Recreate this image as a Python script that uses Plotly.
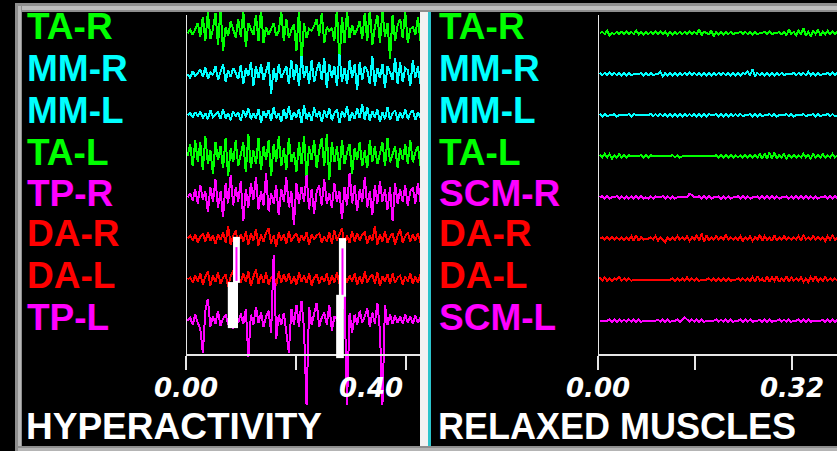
import numpy as np
import plotly.graph_objects as go

W, H = 837, 451

GREEN = "#00ff00"
CYAN = "#00ffff"
MAGENTA = "#ff00ff"
RED = "#ff0000"
AXIS = "#e6e6e6"

# ---------------- data ----------------
channels_left = ["TA-R", "MM-R", "MM-L", "TA-L", "TP-R", "DA-R", "DA-L", "TP-L"]
channels_right = ["TA-R", "MM-R", "MM-L", "TA-L", "SCM-R", "DA-R", "DA-L", "SCM-L"]
colors_left = [GREEN, CYAN, CYAN, GREEN, MAGENTA, RED, RED, MAGENTA]
colors_right = [GREEN, CYAN, CYAN, GREEN, MAGENTA, RED, RED, MAGENTA]

dt_left = 0.0046   # s per sample (hyperactivity recording)
dt_right = 0.004   # s per sample (relaxed recording)

ticks_left = [0.0, 0.2, 0.4]
ticks_right = [0.0, 0.16, 0.32]
ticklabels_left = ["0.00", "0.40"]
ticklabels_right = ["0.00", "0.32"]

# hyperactivity amplitudes (arbitrary units, positive = up)
hyp_ta_r = [0, 3, -2, 5, 10, -4, 16, -8, 21, -6,
            4, 20, -12, 24, -18, 6, -3, 12, 2, -5,
            14, -4, 22, -14, 10, 3, -2, 18, -8, 24,
            -10, 6, -2, 4, 10, -3, 2, 22, -8, 14,
            -5, 3, 9, -18, 24, -30, 10, -5, 4, 2,
            7, 14, -3, 20, -10, 6, 2, 5, -8, 24,
            -30, 16, -10, 22, -5, 8, -2, 4, 12, -6,
            20, -8, 24, -12, 6, 18, -10, 22, -4, 10,
            -26, 18, -8, 8, 14, -5, 22, -10, 4, 6,
            -2, 16, -8, 12]
hyp_mm_r = [0, -4, 3, -2, 1, 5, -3, 7, -5, 2,
            -1, 8, -6, 3, 10, -8, 4, -3, 6, 1,
            -5, 9, -10, 6, -2, 12, -12, 8, -4, 10,
            -6, 3, 12, -20, 6, -8, 10, -4, 2, 8,
            -10, 14, -6, 10, -12, 18, -4, 8, -10, 14,
            -8, 4, 12, -6, 16, -14, 10, -4, 8, -12,
            20, -8, 6, -10, 14, -4, 10, -16, 12, -6,
            8, 4, -10, 18, -12, 6, -4, 10, -14, 8,
            2, -6, 16, -10, 12, -8, 6, 4, -12, 14,
            -4, 8, -10, 6]
hyp_mm_l = [0, 2, -2, 3, -1, 4, -3, 2, -4, 5,
            -2, 1, 3, -4, 6, -3, 2, -5, 4, -1,
            3, -6, 5, -2, 7, -4, 2, -3, 6, -8,
            4, -2, 5, -6, 8, -3, 2, -7, 6, -4,
            9, -5, 3, -2, 6, -8, 10, -4, 3, -6,
            8, -2, 4, -7, 5, -3, 7, -5, 2, 6,
            -8, 4, -2, 9, -6, 3, -4, 7, -3, 11,
            -5, 8, -6, 4, -2, 6, -7, 3, -4, 8,
            -5, 2, 5, -6, 3, -3, 6, -4, 2, 5,
            -5, 3, -2, 4]
hyp_ta_l = [0, 12, -10, 16, -6, 14, -14, 20, -8, 6,
            -18, 14, -4, 10, -12, 18, -20, 8, -6, 16,
            -10, 4, 14, -16, 22, -12, 6, -8, 18, -14,
            10, -4, 16, -20, 12, -6, 20, -10, 8, -14,
            18, -6, 4, -16, 14, -8, 20, -22, 10, -4,
            16, -12, 6, 18, -10, 22, -24, 14, -6, 10,
            -14, 16, -8, 4, 12, -18, 8, -4, 14, -10,
            6, -12, 16, -6, 10, -8, 4, 14, -10, 18,
            -6, 2, 10, -12, 8, -4, 12, -8, 16, -6,
            4, 10, -10, 6]
hyp_tp_r = [0, 4, -3, 8, -6, 12, -2, 6, -14, 10,
            -4, 18, -10, 6, -20, 14, -6, 22, -8, 10,
            -4, 16, -24, 8, -10, 14, -2, 20, -12, 6,
            -8, 24, -14, 4, -6, 12, -18, 8, -4, 20,
            -10, 6, -28, 14, -6, 10, -4, 22, -12, 8,
            -16, 6, 12, -8, 18, -6, 4, -10, 14, -4,
            6, -22, 10, -8, 24, -6, 12, -14, 8, -4,
            20, -10, 6, -18, 12, -6, 16, -4, 8, -12,
            10, -24, 14, -6, 8, -4, 12, -8, 6, 10,
            -6, 14, -4, 8]
hyp_da_r = [0, 3, -2, 4, -4, 2, 5, -3, 6, -2,
            3, -5, 4, -1, 6, -4, 12, -6, 3, 8,
            -5, 4, -3, 7, -6, 5, -2, 9, -7, 4,
            -3, 6, 10, -5, 3, -8, 6, -2, 4, -5,
            7, -3, 2, 5, -4, 3, -2, 6, -6, 4,
            -1, 3, 5, -4, 2, -3, 6, -5, 8, -2,
            4, 10, -6, 3, -4, 7, -3, 5, -2, 4,
            6, -5, 3, -2, 12, -6, 4, -3, 7, -4,
            2, 5, -6, 3, 9, -4, 2, 6, -3, 4,
            -2, 5, -4, 3]
hyp_da_l = [0, 2, -3, 4, -2, 6, -5, 3, 8, -6,
            4, -2, 7, -4, 2, 5, -7, 3, 9, -5,
            4, -3, 6, -2, 8, -6, 3, 10, -4, 5,
            -3, 7, -5, 2, 4, -6, 8, -3, 5, -2,
            6, -4, 3, -5, 7, -2, 4, -3, 6, -6,
            2, 5, -4, 3, -2, 6, -5, 4, -3, 7,
            -4, 2, 5, -3, 4, -2, 6, -5, 3, -4,
            8, -3, 2, 5, -4, 7, -6, 3, -2, 5,
            -4, 6, -3, 2, 4, -5, 3, -2, 6, -4,
            3, -3, 5, -2]
hyp_tp_l = [0, 3, -4, 6, -2, -8, -32, 10, 22, -6,
            4, -3, 10, -5, 2, 6, -4, 3, -8, 5,
            -2, 7, -3, 12, -36, 6, -4, 14, -2, 8,
            -6, 4, 10, -12, 66, -18, 6, -4, 8, -10,
            -32, 12, -4, 16, -6, 20, -8, -84, 14, -4,
            6, 18, -6, 3, 8, -4, 16, -10, 4, 2,
            -6, 10, 24, -84, 8, -12, 6, -4, 10, -2,
            4, 12, -6, 8, -3, 18, -10, -84, 16, -4,
            6, -3, 5, -2, 4, -3, 6, -2, 4, -3,
            5, -2, 3, -2]

# relaxed amplitudes
rel_ta_r = [0, 1, -1, 2, -2, 0, -1, 1, -1, 1,
            -1, 1, -1, 1, -1, 2, -1, 1, -1, 1,
            -1, 1, -1, 1, -1, 1, -1, 1, -2, 1,
            -1, 1, -1, 1, -1, 1, -1, 1, -1, 1,
            -1, 3, -2, 1, 0, -1, 2, -3, 1, -1,
            1, -1, 1, -1, 1, -1, 0, 0, 1, -1,
            1, -1, 1, -1, 1, -1, 0, 0, 1, -1,
            1, -1, 0, 0, 1, -1, 1, -2, 3, -1,
            1, -2, 2, -1, 4, -2, 1, -3, 2, -1,
            3, -2, 1, -1, 2, -1, 1, -1, 1, -1]
rel_mm_r = [1, -1, 1, -1, 1, -1, 1, -1, 1, -1,
            1, -1, 1, -1, 0, 0, 0, 1, -1, 1,
            -1, 1, -1, 0, 0, 2, -2, 1, -1, 1,
            -1, 1, -1, 1, -1, 1, -1, 1, -1, 1,
            -1, 1, -1, 1, -1, 1, -1, 1, -1, 1,
            -1, 1, -1, 1, -1, 1, -1, 1, -1, 1,
            0, 2, -1, 4, -2, 1, -1, 1, -1, 1,
            -1, 1, -1, 1, -1, 1, -1, 0, 0, 0,
            1, -1, 1, -1, 1, -1, 2, -1, 1, -1,
            1, -1, 0, 0, 1, -1, 1, -1, 1, -1]
rel_mm_l = [1, -1, 1, -1, 0, 0, 1, -1, 0, 0,
            0, 0, 1, -1, 1, 0, 0, 0, 0, 0,
            0, 1, -1, 1, -1, 1, -1, 1, -1, 1,
            -1, 1, -1, 1, -1, 1, -1, 1, -1, 1,
            -1, 1, -1, 1, -1, 1, 0, 0, 1, -1,
            1, -1, 1, -1, 1, -1, 1, -1, 1, -1,
            0, 0, 1, -1, 1, -1, 1, -1, 0, 0,
            1, -1, 1, -1, 0, 0, 0, 1, -1, 1,
            -1, 0, 0, 0, 1, -1, 0, 0, 1, -1,
            1, -1, 0, 0, 1, -1, 1, -1, 0, 0]
rel_ta_l = [1, -1, 2, -1, 2, -2, 1, -1, 2, -1,
            1, -1, 1, 0, 0, 0, 0, 1, -1, 1,
            -1, 1, 0, 0, 0, 0, 0, 0, 0, 0,
            1, -1, 1, -1, 0, 0, 0, 0, 0, 0,
            0, 0, 0, 0, 0, 0, 0, 0, 1, -1,
            1, -1, 1, -1, 1, -1, 1, -1, 1, -1,
            1, -1, 1, -1, 1, -1, 2, -2, 2, -2,
            3, -2, 3, -2, 1, -1, 2, -2, 1, -1,
            1, -1, 1, -1, 2, -1, 1, -2, 2, -1,
            1, -1, 2, -1, 1, -1, 2, -1, 1, -1]
rel_scm_r = [0, 1, -1, 1, -1, 0, 0, 1, -1, 1,
             -1, 1, -1, 1, -1, 1, -1, 1, -1, 0,
             -1, 1, -1, 1, 0, 0, 1, -1, 1, -1,
             1, -1, 0, 0, 0, 0, 0, 3, 2, 0,
             0, 1, -1, 1, -1, 1, -1, 0, 0, 1,
             -1, 1, -1, 1, -1, 0, 0, 1, -1, 1,
             -1, 1, -1, 0, 0, 1, -1, 1, -1, 1,
             -1, 1, -1, 1, -1, 0, 0, 1, -1, 1,
             -1, 1, -1, 1, -1, 1, -1, 1, -1, 1,
             -1, 0, 0, 1, -1, 1, -1, 1, -1, 1]
rel_da_r = [0, 1, -1, 1, -1, 1, -1, 1, -1, 1,
            -1, 1, -1, 2, -2, 3, -2, 1, -1, 0,
            0, 1, -1, 2, -2, 1, -1, -3, 1, -1,
            1, -1, 2, -1, 1, -1, 2, -2, 1, -1,
            3, -2, 4, -3, 3, -2, 1, -1, 2, -1,
            1, -1, 3, -1, 1, -1, 1, -1, 2, -2,
            1, -1, 2, -2, 1, -1, 3, -2, 2, -1,
            1, -2, 3, -2, 1, -1, 2, -1, 1, -1,
            1, -1, 2, -2, 3, -1, 1, -1, 2, -1,
            1, -1, 1, -2, 2, -1, 3, -1, 1, -1]
rel_da_l = [2, -1, 2, -1, 1, -1, 1, 0, 2, -1,
            1, -1, 1, -1, 0, 0, 0, 0, 0, 0,
            0, 0, 0, 0, 0, 0, 0, 0, 0, 0,
            1, -1, 1, -1, 1, -1, 2, -1, 1, -1,
            1, -1, 0, 0, 0, 1, -1, 1, -1, 1,
            -1, 1, -1, 1, -1, 0, 0, 1, -1, 1,
            -1, 1, -1, 2, -2, 3, -1, 1, -2, 3,
            -2, 2, -1, 3, -2, 1, -1, 3, -2, 2,
            -1, 1, -1, 2, -2, 1, -2, 2, -1, 3,
            -2, 1, -1, 2, -1, 1, -1, 1, -1, 1]
rel_scm_l = [0, 0, 0, 0, 1, -1, 1, -1, 1, -1,
             1, -1, 1, -1, 1, -1, 1, -1, 0, 0,
             0, 0, 0, 0, 1, -1, 1, -1, 1, -1,
             0, 0, 1, -1, 1, 3, 1, -1, 1, -1,
             1, -1, 1, -1, 0, 0, 0, 0, 1, -1,
             1, -1, 1, -1, 1, -1, 0, 0, 1, -1,
             1, -1, 1, -1, 0, 0, 1, -1, 1, -1,
             1, -1, 0, 0, 1, -1, 1, -1, 1, -1,
             0, 0, 1, -1, 1, -1, 1, -1, 0, 0,
             0, 0, 1, -1, 1, -1, 1, -1, 1, -1]

signals_left = [hyp_ta_r, hyp_mm_r, hyp_mm_l, hyp_ta_l, hyp_tp_r, hyp_da_r, hyp_da_l, hyp_tp_l]
signals_right = [rel_ta_r, rel_mm_r, rel_mm_l, rel_ta_l, rel_scm_r, rel_da_r, rel_da_l, rel_scm_l]

# stimulus / event markers (time in s, channel units)
stim_thin_t = [(0.0855, 0.098), (0.278, 0.291)]
stim_thin_ch = [(4.96, 6.08), (4.99, 6.42)]
stim_thick_t = [(0.076, 0.0945), (0.273, 0.287)]
stim_thick_ch = [(6.06, 7.18), (6.37, 7.91)]

# ---------------- geometry (pixels) ----------------
Y0 = 33.0       # baseline of first channel
SP = 41.1       # px per channel
GAIN_L = 1.0
GAIN_R = 1.2
PX_PER_S_L = 550.0
PX_PER_S_R = 606.0
XL0, XL1 = 186, 421
XR0, XR1 = 598, 837
PLOT_TOP, PLOT_BOT = 12, 412
AXIS_Y = 355
LABEL_Y = [26, 68, 110, 151, 192, 233, 274, 316]


def px(p):
    return p / W


def py(p):
    return 1 - p / H


yrange = [(PLOT_BOT - Y0) / SP, (PLOT_TOP - Y0) / SP]

fig = go.Figure()
for i, (sig, col) in enumerate(zip(signals_left, colors_left)):
    v = np.array(sig, dtype=float)
    t = 0.003 + np.arange(len(v)) * dt_left
    fig.add_trace(go.Scatter(x=t, y=i - v * GAIN_L / SP, mode="lines",
                             line=dict(color=col, width=2), xaxis="x", yaxis="y",
                             hoverinfo="skip"))
for i, (sig, col) in enumerate(zip(signals_right, colors_right)):
    v = np.array(sig, dtype=float)
    t = 0.003 + np.arange(len(v)) * dt_right
    fig.add_trace(go.Scatter(x=t, y=i - v * GAIN_R / SP, mode="lines",
                             line=dict(color=col, width=2), xaxis="x2", yaxis="y2",
                             hoverinfo="skip"))

shapes = []
# event markers
for (t0, t1), (c0, c1) in zip(stim_thick_t, stim_thick_ch):
    shapes.append(dict(type="rect", xref="x", yref="y", x0=t0, x1=t1, y0=c0, y1=c1,
                       fillcolor="white", line=dict(width=0), layer="above"))
for (t0, t1), (c0, c1) in zip(stim_thin_t, stim_thin_ch):
    shapes.append(dict(type="rect", xref="x", yref="y", x0=t0, x1=t1, y0=c0, y1=c1,
                       fillcolor="white", line=dict(width=0), layer="above"))
    tm = (t0 + t1) / 2
    shapes.append(dict(type="line", xref="x", yref="y", x0=tm, x1=tm, y0=c0 + 0.25, y1=c1 - 0.05,
                       line=dict(color=MAGENTA, width=2), layer="above"))

# y-axis lines
for xa, x0 in (("x", 0), ("x2", 0)):
    shapes.append(dict(type="line", xref=xa, yref="paper", x0=x0, x1=x0,
                       y0=py(15), y1=py(AXIS_Y), line=dict(color=AXIS, width=2), layer="above"))

# frame
def rect(x0, y0, x1, y1, color):
    return dict(type="rect", xref="paper", yref="paper", x0=px(x0), x1=px(x1),
                y0=py(y1), y1=py(y0), fillcolor=color, line=dict(width=0), layer="above")

shapes += [
    rect(15, 3, 837, 12, "#8e8e8e"), rect(15, 6, 837, 10, "#bcbcbc"),
    rect(15, 3, 22, 451, "#8e8e8e"), rect(18, 6, 21, 451, "#b8b8b8"),
    rect(15, 446, 837, 451, "#8e8e8e"), rect(18, 448, 837, 451, "#b4b4b4"),
    rect(420, 12, 428, 446, "#f2f2f2"), rect(428, 12, 431, 446, "#2cc4cc"),
]

LABEL_FONT = dict(family="Liberation Sans", size=37)
ann = []
for i, (name, col) in enumerate(zip(channels_left, colors_left)):
    ann.append(dict(text="<b>%s</b>" % name, x=px(25), y=py(LABEL_Y[i] + 1), xref="paper", yref="paper",
                    xanchor="left", yanchor="middle", showarrow=False,
                    font=dict(LABEL_FONT, color=col)))
for i, (name, col) in enumerate(zip(channels_right, colors_right)):
    ann.append(dict(text="<b>%s</b>" % name, x=px(437), y=py(LABEL_Y[i] + 1), xref="paper", yref="paper",
                    xanchor="left", yanchor="middle", showarrow=False,
                    font=dict(LABEL_FONT, color=col)))

tickfont = dict(family="DejaVu Sans", size=26, color="white")
ann += [
    dict(text="<b><i>%s</i></b>" % ticklabels_left[0], x=ticks_left[0], xref="x", y=py(388), yref="paper",
         xanchor="center", yanchor="middle", showarrow=False, font=tickfont),
    dict(text="<b><i>%s</i></b>" % ticklabels_left[1], x=px(371), xref="paper", y=py(388), yref="paper",
         xanchor="center", yanchor="middle", showarrow=False, font=tickfont),
    dict(text="<b><i>%s</i></b>" % ticklabels_right[0], x=ticks_right[0], xref="x2", y=py(388), yref="paper",
         xanchor="center", yanchor="middle", showarrow=False, font=tickfont),
    dict(text="<b><i>%s</i></b>" % ticklabels_right[1], x=ticks_right[2], xref="x2", y=py(388), yref="paper",
         xanchor="center", yanchor="middle", showarrow=False, font=tickfont),
    dict(text="<b>HYPERACTIVITY</b>", x=px(24), y=py(426), xref="paper", yref="paper",
         xanchor="left", yanchor="middle", showarrow=False,
         font=dict(LABEL_FONT, color="white")),
    dict(text="<b>RELAXED MUSCLES</b>", x=px(436), y=py(426), xref="paper", yref="paper",
         xanchor="left", yanchor="middle", showarrow=False,
         font=dict(family="Liberation Sans", size=36, color="white")),
]

axis_common = dict(showgrid=False, zeroline=False, showline=True, linecolor=AXIS, linewidth=2,
                   ticks="outside", ticklen=14, tickwidth=2, tickcolor=AXIS,
                   showticklabels=False, anchor="free", position=py(AXIS_Y), fixedrange=True)

fig.update_layout(
    width=W, height=H, margin=dict(l=0, r=0, t=0, b=0),
    paper_bgcolor="black", plot_bgcolor="black", showlegend=False,
    xaxis=dict(domain=[px(XL0), px(XL1)], range=[0, (XL1 - XL0) / PX_PER_S_L],
               tickvals=ticks_left, **axis_common),
    xaxis2=dict(domain=[px(XR0), px(XR1)], range=[0, (XR1 - XR0) / PX_PER_S_R],
                tickvals=ticks_right, **axis_common),
    yaxis=dict(domain=[py(PLOT_BOT), py(PLOT_TOP)], range=yrange, visible=False, anchor="x"),
    yaxis2=dict(domain=[py(PLOT_BOT), py(PLOT_TOP)], range=yrange, visible=False, anchor="x2"),
    shapes=shapes, annotations=ann,
)

fig.write_html("out.html", config={"displayModeBar": False},
               post_script="document.body.style.margin='0';document.body.style.overflow='hidden';"
                           "document.querySelectorAll('path.js-line').forEach(function(p){p.style.shapeRendering='crispEdges';});")
